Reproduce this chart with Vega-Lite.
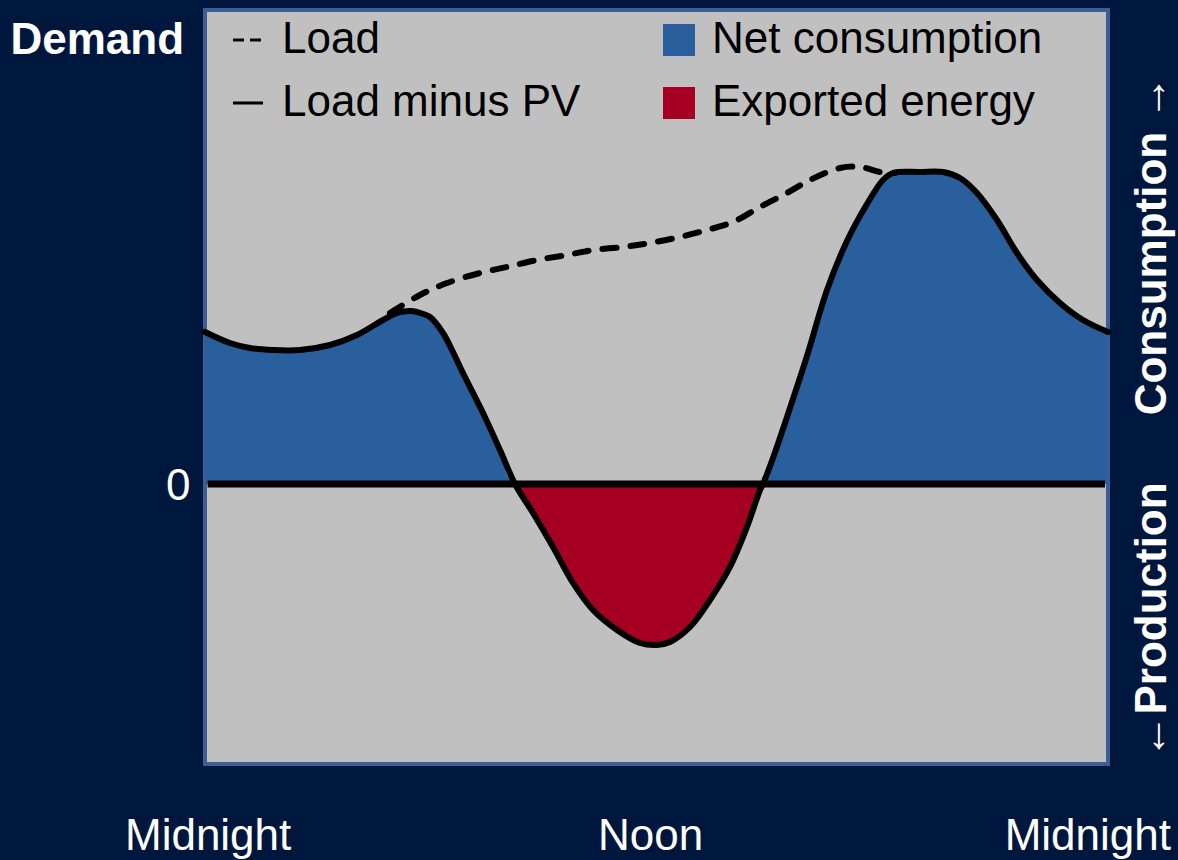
{
  "$schema": "https://vega.github.io/schema/vega-lite/v6.json",
  "width": 903,
  "height": 754,
  "autosize": {"type": "none"},
  "padding": {"left": 205, "top": 10, "right": 70, "bottom": 96},
  "background": "#00173d",
  "config": {
    "font": "Liberation Sans",
    "view": {"fill": "#c0c0c0", "stroke": "#3b5e96", "strokeWidth": 4},
    "legend": {"padding": 0, "labelFont": "Liberation Sans", "labelFontSize": 44, "labelColor": "black", "title": null, "labelLimit": 1000},
    "axisX": {
      "title": null, "ticks": false, "domain": false, "grid": false,
      "labelFontSize": 44, "labelColor": "white", "labelFont": "Liberation Sans",
      "labelBaseline": "top", "labelPadding": 50, "labelOverlap": false, "labelFlush": false, "labelBound": false, "labelLimit": 1000
    }
  },
  "datasets": {
    "net": [
      {"t": 0, "v": 152}, {"t": 0.665, "v": 141}, {"t": 1.196, "v": 136}, {"t": 1.807, "v": 134},
      {"t": 2.525, "v": 134}, {"t": 3.322, "v": 139}, {"t": 4.04, "v": 149}, {"t": 4.731, "v": 164},
      {"t": 5.103, "v": 171}, {"t": 5.449, "v": 173}, {"t": 5.635, "v": 172}, {"t": 5.98, "v": 167},
      {"t": 6.326, "v": 151}, {"t": 6.591, "v": 132}, {"t": 6.857, "v": 111}, {"t": 7.389, "v": 71},
      {"t": 7.841, "v": 34}, {"t": 8.239, "v": 0}, {"t": 8.718, "v": -29}, {"t": 9.249, "v": -63},
      {"t": 9.781, "v": -99}, {"t": 10.312, "v": -126}, {"t": 10.95, "v": -146}, {"t": 11.561, "v": -159},
      {"t": 12.013, "v": -161}, {"t": 12.359, "v": -158}, {"t": 12.89, "v": -143}, {"t": 13.422, "v": -116},
      {"t": 13.953, "v": -83}, {"t": 14.405, "v": -43}, {"t": 14.751, "v": -6}, {"t": 14.831, "v": 0},
      {"t": 15.096, "v": 26}, {"t": 15.548, "v": 76}, {"t": 16.0, "v": 128}, {"t": 16.532, "v": 194},
      {"t": 17.063, "v": 243}, {"t": 17.595, "v": 280}, {"t": 18.02, "v": 304}, {"t": 18.286, "v": 311},
      {"t": 19.003, "v": 312}, {"t": 19.615, "v": 312}, {"t": 20.066, "v": 306}, {"t": 20.518, "v": 291},
      {"t": 21.05, "v": 264}, {"t": 21.581, "v": 231}, {"t": 22.113, "v": 204}, {"t": 22.724, "v": 181},
      {"t": 23.336, "v": 164}, {"t": 24, "v": 152}
    ],
    "load": [
      {"t": 4.917, "v": 171}, {"t": 5.714, "v": 189}, {"t": 6.432, "v": 201}, {"t": 7.309, "v": 211},
      {"t": 8.027, "v": 217}, {"t": 8.824, "v": 224}, {"t": 9.621, "v": 229}, {"t": 10.312, "v": 234},
      {"t": 11.11, "v": 237}, {"t": 11.827, "v": 241}, {"t": 12.625, "v": 247}, {"t": 13.342, "v": 254},
      {"t": 14.033, "v": 262}, {"t": 14.751, "v": 277}, {"t": 15.468, "v": 291}, {"t": 16.08, "v": 304},
      {"t": 16.877, "v": 316}, {"t": 17.409, "v": 317}, {"t": 17.94, "v": 312}, {"t": 18.339, "v": 311}
    ]
  },
  "layer": [
    {
      "data": {"name": "net"},
      "transform": [{"filter": "datum.v >= 0"}],
      "mark": {"type": "area", "interpolate": "catmull-rom", "opacity": 1},
      "encoding": {
        "x": {
          "field": "t", "type": "quantitative",
          "scale": {"domain": [0, 24], "nice": false, "zero": false},
          "axis": {"values": [0.07, 11.83, 23.45], "labelExpr": "datum.value > 6 && datum.value < 18 ? 'Noon' : 'Midnight'"}
        },
        "y": {
          "field": "v", "type": "quantitative",
          "scale": {"domain": [-280, 474], "nice": false, "zero": false},
          "axis": {
            "orient": "left", "values": [0], "ticks": false, "domain": false, "grid": false,
            "labelFontSize": 44, "labelColor": "white", "labelPadding": 15, "labelBaseline": "middle", "labelOffset": 2,
            "title": "Demand", "titleAngle": 0, "titleAlign": "left", "titleBaseline": "middle",
            "titleX": -195, "titleY": 30, "titleFontSize": 44, "titleFontWeight": "bold", "titleColor": "white"
          }
        },
        "y2": {"datum": 0},
        "color": {
          "datum": "Net consumption",
          "scale": {"domain": ["Net consumption", "Exported energy"], "range": ["#2a5f9e", "#a50021"]},
          "legend": {
            "orient": "none", "legendX": 452, "legendY": 8, "direction": "vertical",
            "symbolType": "square", "symbolSize": 1024, "symbolOpacity": 1, "symbolStrokeWidth": 0,
            "labelOffset": 11, "rowPadding": 19
          }
        }
      }
    },
    {
      "data": {"name": "net"},
      "transform": [{"filter": "datum.v <= 0"}],
      "mark": {"type": "area", "interpolate": "catmull-rom", "opacity": 1},
      "encoding": {
        "x": {"field": "t", "type": "quantitative", "axis": {"values": [0.07, 11.83, 23.45], "labelExpr": "datum.value > 6 && datum.value < 18 ? 'Noon' : 'Midnight'"}},
        "y": {"field": "v", "type": "quantitative", "axis": null},
        "y2": {"datum": 0},
        "color": {"datum": "Exported energy"}
      }
    },
    {
      "data": {"values": [{}]},
      "mark": {"type": "rule", "color": "black", "strokeWidth": 7},
      "encoding": {
        "x": {"datum": 0.07, "type": "quantitative", "axis": {"values": [0.07, 11.83, 23.45], "labelExpr": "datum.value > 6 && datum.value < 18 ? 'Noon' : 'Midnight'"}},
        "x2": {"datum": 23.92},
        "y": {"datum": 0, "type": "quantitative", "axis": null}
      }
    },
    {
      "data": {"name": "load"},
      "mark": {"type": "line", "color": "black", "strokeWidth": 6, "interpolate": "catmull-rom", "strokeCap": "round", "strokeDash": [14, 14]},
      "encoding": {
        "x": {"field": "t", "type": "quantitative", "axis": {"values": [0.07, 11.83, 23.45], "labelExpr": "datum.value > 6 && datum.value < 18 ? 'Noon' : 'Midnight'"}},
        "y": {"field": "v", "type": "quantitative", "axis": null}
      }
    },
    {
      "data": {"name": "net"},
      "mark": {"type": "line", "color": "black", "strokeWidth": 6, "interpolate": "catmull-rom", "strokeCap": "round"},
      "encoding": {
        "x": {"field": "t", "type": "quantitative", "axis": {"values": [0.07, 11.83, 23.45], "labelExpr": "datum.value > 6 && datum.value < 18 ? 'Noon' : 'Midnight'"}},
        "y": {
          "field": "v", "type": "quantitative",
          "axis": {
            "orient": "right", "values": [239, -136],
            "labelExpr": "datum.value > 0 ? 'Consumption →' : '←Production'",
            "labelAngle": -90, "labelAlign": "center", "labelBaseline": "middle",
            "labelPadding": 44, "labelFontSize": 44, "labelFontWeight": "bold", "labelColor": "white", "labelLimit": 1000,
            "ticks": false, "domain": false, "grid": false, "title": null, "labelOverlap": false, "labelBound": false, "labelFlush": false
          }
        }
      }
    },
    {
      "data": {"name": "net"},
      "transform": [{"filter": "datum.t < 0"}],
      "mark": {"type": "line", "color": "black", "strokeWidth": 3},
      "encoding": {
        "x": {"field": "t", "type": "quantitative", "axis": {"values": [0.07, 11.83, 23.45], "labelExpr": "datum.value > 6 && datum.value < 18 ? 'Noon' : 'Midnight'"}},
        "y": {"field": "v", "type": "quantitative", "axis": null},
        "strokeDash": {
          "datum": "Load",
          "scale": {"domain": ["Load", "Load minus PV"], "range": [[11, 6], [1, 0]]},
          "legend": {
            "orient": "none", "legendX": 21, "legendY": 8, "direction": "vertical",
            "symbolType": "stroke", "symbolSize": 900, "symbolStrokeColor": "black", "symbolStrokeWidth": 3,
            "symbolOpacity": 1, "labelOffset": 12, "rowPadding": 19
          }
        }
      }
    }
  ],
  "resolve": {"axis": {"y": "independent"}}
}
